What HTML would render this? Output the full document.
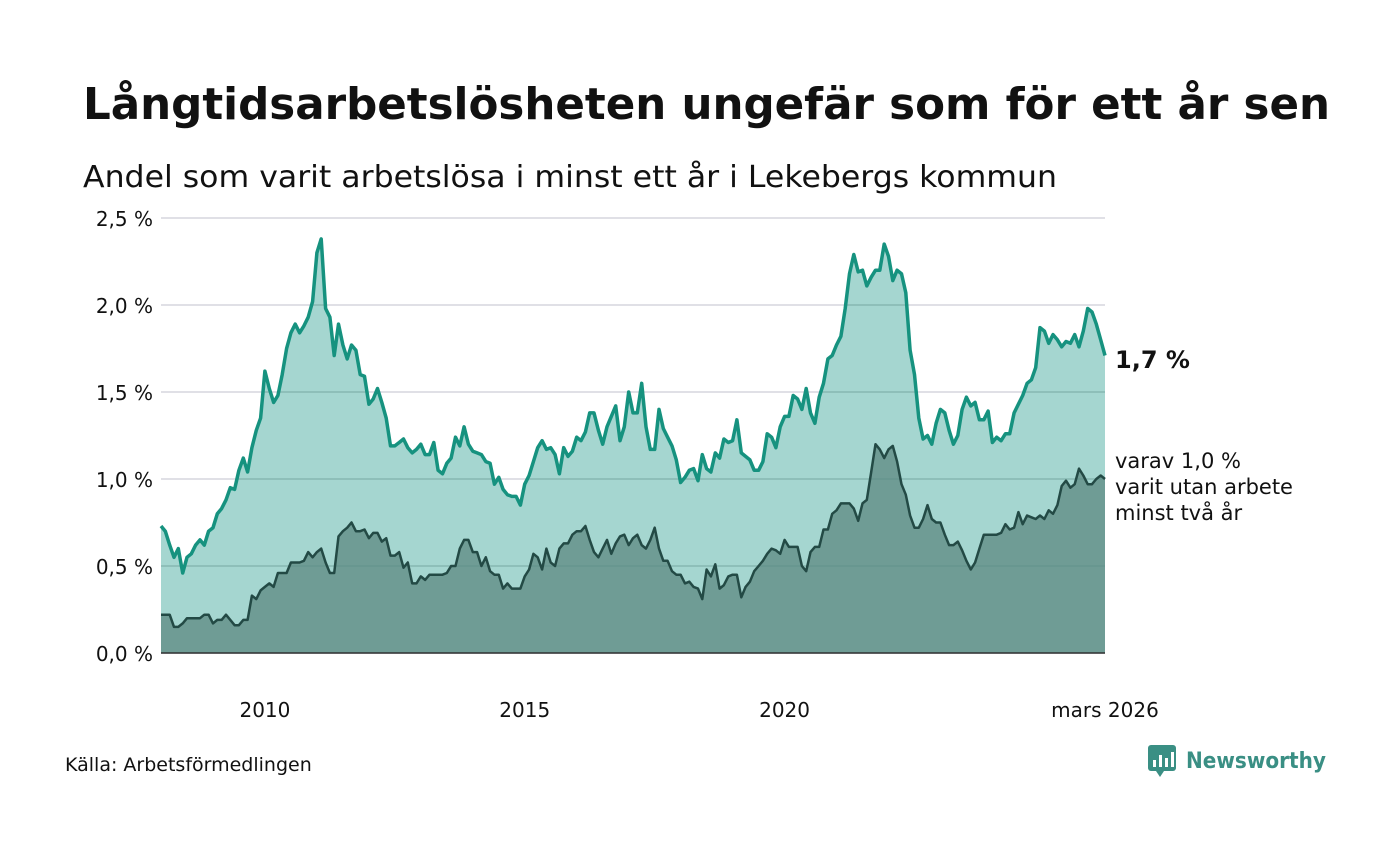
<!DOCTYPE html>
<html><head><meta charset="utf-8">
<style>
body{margin:0;background:#fff;}
svg text{font-family:"DejaVu Sans","Liberation Sans",sans-serif;}
</style></head>
<body>
<svg width="1400" height="840" viewBox="0 0 1400 840">
<defs><clipPath id="areaclip"><polygon id="clipPoly" points=""/></clipPath></defs>
<text x="83" y="119" font-size="44" font-weight="bold" fill="#111" textLength="1247" lengthAdjust="spacingAndGlyphs">Långtidsarbetslösheten ungefär som för ett år sen</text>
<text x="83" y="187" font-size="30" fill="#111" textLength="974" lengthAdjust="spacingAndGlyphs">Andel som varit arbetslösa i minst ett år i Lekebergs kommun</text>
<g id="grid"></g>
<g id="areas"></g>
<g id="yticks"></g>
<g id="xticks"></g>
<text x="1115" y="368" font-size="24" font-weight="bold" fill="#111">1,7 %</text>
<text font-size="21" fill="#111"><tspan x="1115" y="468">varav 1,0 %</tspan><tspan x="1115" y="494">varit utan arbete</tspan><tspan x="1115" y="520">minst två år</tspan></text>
<text x="65" y="771" font-size="19" fill="#111">Källa: Arbetsförmedlingen</text>
<g>
<rect x="1148" y="745" width="28" height="26" rx="3" fill="#3a8f84"/>
<polygon points="1156,771 1164,771 1160,777" fill="#3a8f84"/>
<rect x="1153" y="760" width="3" height="7" fill="#fff"/><rect x="1159" y="755" width="3" height="12" fill="#fff"/><rect x="1165" y="758" width="3" height="9" fill="#fff"/><rect x="1171" y="752" width="3" height="15" fill="#fff"/>
<text x="1186" y="768" font-size="22" font-weight="bold" fill="#3a8f84" textLength="140" lengthAdjust="spacingAndGlyphs">Newsworthy</text>
</g>
</svg>
<script>
const total = [
0.73,0.70,0.62,0.55,0.60,0.46,0.55,0.57,0.62,0.65,0.62,0.70,
0.72,0.80,0.83,0.88,0.95,0.94,1.05,1.12,1.04,1.18,1.28,1.35,
1.62,1.52,1.44,1.48,1.60,1.75,1.84,1.89,1.84,1.88,1.93,2.02,
2.30,2.38,1.98,1.93,1.71,1.89,1.77,1.69,1.77,1.74,1.60,1.59,
1.43,1.46,1.52,1.44,1.35,1.19,1.19,1.21,1.23,1.18,1.15,1.17,
1.20,1.14,1.14,1.21,1.05,1.03,1.09,1.12,1.24,1.19,1.30,1.20,
1.16,1.15,1.14,1.10,1.09,0.97,1.01,0.94,0.91,0.90,0.90,0.85,
0.97,1.02,1.10,1.18,1.22,1.17,1.18,1.14,1.03,1.18,1.13,1.16,
1.24,1.22,1.27,1.38,1.38,1.28,1.20,1.30,1.36,1.42,1.22,1.30,
1.50,1.38,1.38,1.55,1.30,1.17,1.17,1.40,1.29,1.24,1.19,1.11,
0.98,1.01,1.05,1.06,0.99,1.14,1.06,1.04,1.15,1.12,1.23,1.21,
1.22,1.34,1.15,1.13,1.11,1.05,1.05,1.10,1.26,1.24,1.18,1.30,
1.36,1.36,1.48,1.46,1.40,1.52,1.38,1.32,1.47,1.55,1.69,1.71,
1.77,1.82,1.98,2.18,2.29,2.19,2.20,2.11,2.16,2.20,2.20,2.35,
2.28,2.14,2.20,2.18,2.07,1.74,1.60,1.35,1.23,1.25,1.20,1.32,
1.40,1.38,1.28,1.20,1.25,1.40,1.47,1.42,1.44,1.34,1.34,1.39,
1.21,1.24,1.22,1.26,1.26,1.38,1.43,1.48,1.55,1.57,1.64,1.87,
1.85,1.78,1.83,1.80,1.76,1.79,1.78,1.83,1.76,1.85,1.98,1.96,
1.89,1.80,1.71];
const longterm = [
0.22,0.22,0.22,0.15,0.15,0.17,0.20,0.20,0.20,0.20,0.22,0.22,
0.17,0.19,0.19,0.22,0.19,0.16,0.16,0.19,0.19,0.33,0.31,0.36,
0.38,0.40,0.38,0.46,0.46,0.46,0.52,0.52,0.52,0.53,0.58,0.55,
0.58,0.60,0.52,0.46,0.46,0.67,0.70,0.72,0.75,0.70,0.70,0.71,
0.66,0.69,0.69,0.64,0.66,0.56,0.56,0.58,0.49,0.52,0.40,0.40,
0.44,0.42,0.45,0.45,0.45,0.45,0.46,0.50,0.50,0.60,0.65,0.65,
0.58,0.58,0.50,0.55,0.47,0.45,0.45,0.37,0.40,0.37,0.37,0.37,
0.44,0.48,0.57,0.55,0.48,0.60,0.52,0.50,0.60,0.63,0.63,0.68,
0.70,0.70,0.73,0.65,0.58,0.55,0.60,0.65,0.57,0.63,0.67,0.68,
0.62,0.66,0.68,0.62,0.60,0.65,0.72,0.60,0.53,0.53,0.47,0.45,
0.45,0.40,0.41,0.38,0.37,0.31,0.48,0.44,0.51,0.37,0.39,0.44,
0.45,0.45,0.32,0.38,0.41,0.47,0.50,0.53,0.57,0.60,0.59,0.57,
0.65,0.61,0.61,0.61,0.50,0.47,0.58,0.61,0.61,0.71,0.71,0.80,
0.82,0.86,0.86,0.86,0.83,0.76,0.86,0.88,1.04,1.20,1.17,1.12,
1.17,1.19,1.10,0.97,0.91,0.79,0.72,0.72,0.77,0.85,0.77,0.75,
0.75,0.68,0.62,0.62,0.64,0.59,0.53,0.48,0.52,0.60,0.68,0.68,
0.68,0.68,0.69,0.74,0.71,0.72,0.81,0.74,0.79,0.78,0.77,0.79,
0.77,0.82,0.80,0.85,0.96,0.99,0.95,0.97,1.06,1.02,0.97,0.97,
1.00,1.02,1.00];
const yTicks = [0,0.5,1,1.5,2,2.5];
const yTickLabels = ["0,0 %","0,5 %","1,0 %","1,5 %","2,0 %","2,5 %"];
const xTickIdx = [24,84,144,218];
const xTickLabels = ["2010","2015","2020","mars 2026"];

const X0=161,X1=1105,Y0=653,Y1=218,YMAX=2.5;
const n=total.length;
const xs=i=>X0+(X1-X0)*i/(n-1);
const ys=v=>Y0-(Y0-Y1)*v/YMAX;
const NS="http://www.w3.org/2000/svg";
function mk(tag,attrs,parent){const e=document.createElementNS(NS,tag);for(const k in attrs)e.setAttribute(k,attrs[k]);parent.appendChild(e);return e;}
const grid=document.getElementById('grid'),areas=document.getElementById('areas'),yt=document.getElementById('yticks'),xt=document.getElementById('xticks');
yTicks.forEach((v,i)=>{
 const l=mk('line',{x1:X0,x2:X1,y1:ys(v),y2:ys(v),stroke:'#e0e0e6','stroke-width':2},grid);
 
 
 const t=mk('text',{x:153,y:ys(v)+8,'font-size':20,fill:'#111','text-anchor':'end'},yt);
 t.textContent=yTickLabels[i];
 
 
});
function linePts(arr){return arr.map((v,i)=>xs(i).toFixed(1)+','+ys(v).toFixed(1)).join(' ');}
function areaPts(arr){return X0+','+Y0+' '+linePts(arr)+' '+X1+','+Y0;}
document.getElementById('clipPoly').setAttribute('points',areaPts(total));
const a1=mk('polygon',{points:areaPts(total),fill:'#a5d6d0'},areas);


const a2=mk('polygon',{points:areaPts(longterm),fill:'#6f9c95'},areas);


const og=mk('g',{'clip-path':'url(#areaclip)'},areas);
yTicks.forEach(v=>{const l=mk('line',{x1:X0,x2:X1,y1:ys(v),y2:ys(v),stroke:'#5b8a84','stroke-opacity':0.3,'stroke-width':2},og);
 
 });
const l2=mk('polyline',{points:linePts(longterm),fill:'none',stroke:'#234a45','stroke-width':2.5,'stroke-linejoin':'round'},areas);


const l1=mk('polyline',{points:linePts(total),fill:'none',stroke:'#16927f','stroke-width':3.5,'stroke-linejoin':'round'},areas);


const base=mk('line',{x1:X0,x2:X1,y1:Y0,y2:Y0,stroke:'#333','stroke-width':1.5},areas);


xTickIdx.forEach((idx,i)=>{
 const t=mk('text',{x:xs(idx),y:717,'font-size':20,fill:'#111','text-anchor':'middle'},xt);
 t.textContent=xTickLabels[i];
 
 
});
</script>
</body></html>
